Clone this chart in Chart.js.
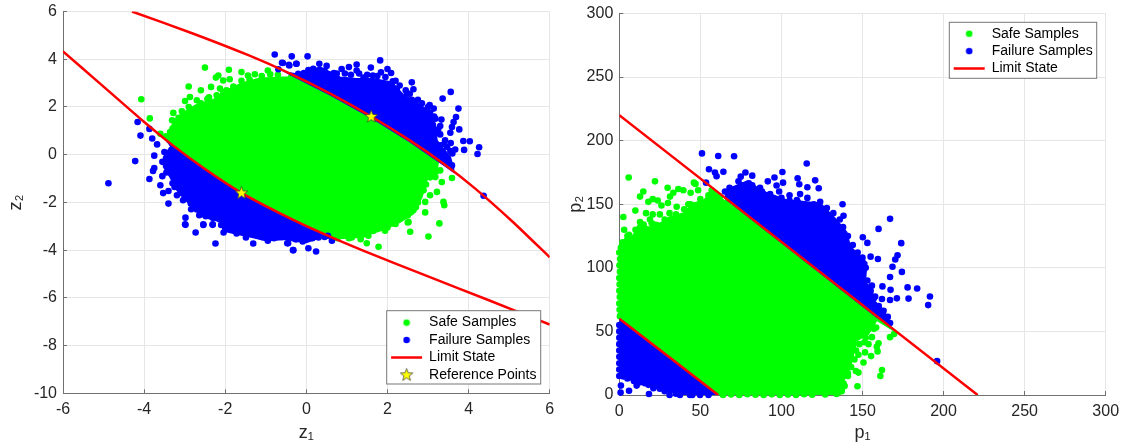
<!DOCTYPE html>
<html>
<head>
<meta charset="utf-8">
<style>
  body { margin: 0; background: #fff; }
  canvas { position: absolute; top: 0; }
</style>
<script src="https://cdn.jsdelivr.net/npm/chart.js@4"></script>
</head>
<body>
<canvas id="z-chart" width="560" height="446" style="left:0"></canvas>
<canvas id="p-chart" width="566" height="446" style="left:560px"></canvas>
<script>
// tick labels
const zXTicks = [-6, -4, -2, 0, 2, 4, 6];
const zYTicks = [-10, -8, -6, -4, -2, 0, 2, 4, 6];
const pXTicks = [0, 50, 100, 150, 200, 250, 300];
const pYTicks = [0, 50, 100, 150, 200, 250, 300];

const labels = ['Safe Samples', 'Failure Samples', 'Limit State', 'Reference Points'];

// standard normal space: outline of the solid clouds
const safeBodyZ = [[-3.44,.6],[-3.36,.95],[-3.28,1.4],[-3.05,1.75],[-2.7,2.1],[-2.3,2.3],[-1.95,2.7],[-1.6,3.0],[-1.15,3.2],[-.45,3.25],[-.4,3.38],[.6,2.53],[1.6,1.58],[2.55,.58],[3.25,-.25],[3.25,-.35],[3.22,-.66],[2.97,-1.07],[2.85,-1.77],[2.64,-2.47],[2.31,-2.82],[1.82,-3.19],[1.24,-3.47],[.75,-3.5],[.4,-3.28],[-.6,-2.48],[-1.6,-1.58],[-2.5,-.58],[-3.3,.42],[-3.44,.6]];
const failUpperZ = [[-.55,3.5],[-.4,3.36],[.6,2.5],[1.6,1.55],[2.55,.55],[3.4,-.45],[3.63,-.73],[3.63,-.59],[3.55,-.1],[3.22,.6],[3.18,1.3],[2.97,1.86],[2.64,2.28],[2.4,2.49],[2.11,3.04],[1.65,3.18],[1.24,3.18],[.83,3.25],[.34,3.67],[-.16,3.39]];
const failLowerZ = [[-3.44,.55],[-3.3,.37],[-2.5,-.63],[-1.6,-1.63],[-.6,-2.53],[.4,-3.33],[.6,-3.47],[.34,-3.47],[0,-3.68],[-.32,-3.61],[-.5,-3.54],[-.99,-3.61],[-1.31,-3.47],[-1.72,-3.33],[-2.05,-3.19],[-2.09,-2.82],[-2.54,-2.61],[-2.82,-2.19],[-3.19,-1.49],[-3.36,-.94],[-3.52,-.52],[-3.52,-.1],[-3.36,.32]];

// standard normal space: the scattered samples round the edge
const safeZ = [[-2.5,3.65],[-4.07,2.32],[-3.86,1.52],[-1.91,3.56],[-1.6,3.46],[-2.9,2.86],[-2.6,2.7],[-2.35,2.84],[-2.17,3.32],[-2.23,3.23],[-3.6,.88],[-3.46,.77],[-3.28,1.75],[-3.07,1.82],[-2.99,2.25],[-2.87,2.42],[-2.7,2.28],[-2.44,2.33],[-2.21,2.49],[-3.31,1.44],[-3.36,.95],[-2.05,3.11],[-1.89,3.16],[-2.13,2.77],[-1.97,2.7],[-1.27,3.37],[-.95,3.53],[-.89,3.37],[-1.44,3.32],
  [-3.3,1.1],[-3.15,1.55],[-2.9,2],[-2.6,2.15],[-2.4,2.4],[-2.05,2.6],[-1.8,2.85],[-1.6,3.1],[-1.4,3.15],[-1.1,3.3],[-.7,3.35],
  [3.59,-.98],[3.3,-.66],[3.38,-1.98],[3.4,-2.12],[2.93,-2.42],[2.93,-1.98],[3.05,-1.7],[3.22,-1.56],[3.34,-1.15],[3.18,-.94],[2.89,-1.49],[2.64,-2.33],[2.52,-2.82],[3.28,-2.88],[3.01,-3.43],[2.56,-3.23],[2.5,-2.84],[1.94,-3.19],[1.78,-3.86],[1.49,-3.71],[1.34,-3.54],[1.53,-3.4],[2.13,-2.88],[1.12,-3.47],[.92,-3.4],[.77,-3.5],
  [2.95,-1.25],[2.75,-2],[2.7,-2.2],[2.5,-2.55],[2.2,-2.9],[2,-3.05],[1.65,-3.2],[1.4,-3.35],[1.05,-3.5],[3.2,-.7],[3.05,-.95]];
const failZ = [[-.36,4.12],[.03,4.12],[-.58,3.84],[-.42,3.74],[-.24,3.81],[1.82,3.95],[.32,3.81],[.5,3.72],[.87,3.59],[1.05,3.67],[1.24,3.78],[1.59,3.65],[2,3.59],[2.09,3.42],[1.84,3.45],[2.6,3.03],[2.64,2.74],[3.56,2.63],[3.36,2.35],[3.75,1.93],[3.69,1.58],[3.63,1.37],[3.59,1.16],[3.55,.92],[3.77,1.06],[3.33,1.47],[3.04,2.08],[3.14,1.93],[2.81,2],[3.87,.57],[4.03,.56],[4.26,.31],[4.22,.03],[3.89,.2],[3.67,.22],[3.42,.6],[3.56,.49],[3.22,.99],[4.37,-1.72],[3.59,-.45],[2.48,2.56],[.17,3.6],[.68,3.42],[1.24,3.53],[1.41,3.23],[1.64,3.32],[2.13,3.07],[2.23,2.72],[2.31,2.42],[2.6,2.3],[2.89,1.86],[3.18,1.51],[3.47,.32],[3.3,.39],[-.06,3.42],[-.2,3.39],[-.78,4.2],[-.6,3.85],[-.43,3.77],[-.25,3.81],[-.69,3.58],
  [.05,3.55],[.2,3.45],[.45,3.5],[.6,3.35],[.75,3.4],[.95,3.4],[1.1,3.35],[1.3,3.4],[1.5,3.35],[1.75,3.3],[1.95,3.25],[2.2,3.1],[2.3,2.9],[2.45,2.7],[2.55,2.55],[2.75,2.3],[2.85,2.15],[3,2],[3.05,1.75],[3.15,1.6],[3.3,1.2],[3.25,1.05],[3.3,.85],[3.4,.45],[3.55,.15],[3.6,.05],
  [-4.88,-1.2],[-4.22,-.27],[-4.16,1.37],[-4.09,.8],[-3.87,1.08],[-3.8,.68],[-3.68,.43],[-3.87,-1.02],[-3.75,-.04],[-3.75,-.56],[-3.5,.11],[-3.78,-.68],[-3.6,-1.28],[-3.53,-1.61],[-3.4,-2.05],[-3.4,-1.52],[-3.19,-1.7],[-3.04,-1.91],[-2.84,-2.29],[-2.98,-2.64],[-2.99,-2.92],[-2.64,-2.54],[-2.48,-2.58],[-2.54,-2.92],[-2.31,-2.92],[-2.13,-2.72],[-2.98,-2.94],[-2.73,-3.26],[-2.54,-2.95],[-2.31,-2.94],[-2.24,-3.72],[-2.04,-3.26],[-1.72,-3.3],[-1.49,-3.47],[-1.31,-3.72],[-.95,-3.61],[-.45,-3.71],[-.33,-4],[-.27,-3.54],[-.47,-3.71],[-.32,-4],[-.24,-3.54],[.05,-3.92],[.24,-4.06],[-.09,-3.64],[.3,-3.47],[.63,-3.61],[.53,-3.4],
  [-3.55,-.3],[-3.45,-.75],[-3.55,-.9],[-3.3,-1.2],[-3.25,-1.35],[-3.1,-1.6],[-3,-1.8],[-2.85,-2.05],[-2.7,-2.3],[-2.55,-2.45],[-2.3,-2.65],[-2.1,-2.95],[-1.9,-3.1],[-1.6,-3.2],[-1.4,-3.3],[-1.1,-3.45],[-.8,-3.5],[-.6,-3.45],[-.1,-3.5],[.15,-3.5],[.45,-3.45]];

// both branches of the limit state, null breaks the line
const limitZ = [[-4.3,6],[-2.8,5.08],[-1.4,4.15],[-.4,3.4],[.6,2.55],[1.6,1.6],[2.55,.6],[3.4,-.4],[4.15,-1.4],[5.08,-2.8],[6,-4.3],[null,null],[-6,4.33],[-5.1,3],[-4.02,1.4],[-3.3,.4],[-2.5,-.6],[-1.6,-1.6],[-.6,-2.5],[.4,-3.3],[1.4,-4.02],[3,-5.1],[4.5,-6.1],[6,-7.12]];
const refZ = [[1.6,1.6],[-1.6,-1.6]];

// physical space: outline of the solid clouds
const safeBodyP = [[0,60],[0,115],[3.5,123],[8.6,125.6],[11.7,133.6],[18.9,132],[22,136],[25,135],[31,140],[39.5,143],[45.7,150.8],[51.9,153],[58,161],[66.3,150.8],[72,148],[170,50],[158.8,58.8],[153.7,48],[146.5,42.8],[144.4,32],[142.4,21.5],[138.3,10.9],[137.2,3],[136,0],[60,0]];
const failUpperP = [[65,155],[159,61],[167,56],[163,66.8],[156.8,74.7],[155.8,85],[151.6,88],[152.7,104],[148.6,109],[142.4,117],[140.3,128],[134,137.7],[124,150.8],[103,153.4],[91,159],[78.6,168],[65.2,161]];
const failLowerP = [[0,60],[60,0],[41.6,0],[31,2.6],[23,5.3],[13.8,9.3],[0,14.5]];

// physical space: the scattered samples round the edge
const safeP = [[5.8,171],[2.5,140],[9.9,145],[22,168],[14.8,160],[12.8,156],[29.8,163],[46,167],[47,166],[48.6,161],[36.4,162],[39.5,161],[33.3,159],[31.3,156],[44,159],[20.6,154],[23.7,153],[17.9,152],[30,151],[26,149],[35.4,148],[16.5,143],[20.6,142],[12.8,136],[18.9,138],[25,142],[31,143],[57,161],[42.6,150],[67,152],
  [6,126],[10,130],[15,134],[20,135],[28,138],[35,142],[40,146],[44,150],[50,154],[55,157],[62,156],
  [167,45.5],[169.5,48],[158.4,53],[153.7,40],[155.8,45.5],[159.9,40.7],[158.8,38],[159.3,34.3],[155.3,30.6],[151.6,33.5],[147.5,31.6],[150.6,25.5],[162,19.7],[161,14.9],[145.9,18.9],[147.5,17.6],[146.9,6.9],[137.2,3],[140.3,16.8],[138.3,9],[151.2,41.5],
  [157,52],[152,45],[148,40],[146,35],[145,28],[143,22],[141,15],[139,7],
  [.4,62],[.2,67],[0,72],[.3,77],[0,82],[.2,87],[0,92],[.4,97],[.1,102],[.5,107],[0,112],[1,116],[2,120],[5,125],[3,130],
  [64,0],[69,.4],[74,0],[79,.6],[84,.2],[89,0],[94,.5],[99,0],[104,.3],[109,0],[114,.6],[119,.2],[122.8,2.6],[127,.4],[134,.8],[137,4],[138,18.5],[141,17]];
const failP = [[51,190],[61,188],[70.8,187.7],[55.3,177.5],[59,174.9],[60,172],[64.2,175.6],[53.5,167],[77.8,175],[74.9,171.7],[73.5,168],[82,172.5],[79.9,166.5],[86.8,163],[91.6,168],[95.7,171],[97,164.7],[100.6,175.4],[101,167],[98.6,160],[105,157],[110,170.4],[111,165.7],[115.6,182],[116,163.4],[120.8,168.8],[123,162.6],[111.5,158],[109.5,153.4],[123.9,152],[137.7,150],[138.3,141],[133,136],[127,140],[68,163],[65.2,160],
  [70,160],[75,165],[82,165],[88,160],[93,158],[100,155],[105,153],[110,152],[116,155],[120,150],[128,147],[132,143],[136,138],[138,132],[141,125],[144,118],[147,112],[150,108],[152,100],[150,95],[153,90],[155,82],[157,76],[160,70],
  [167,138.5],[159.9,130.6],[150.2,124],[153,119.6],[173.9,119.4],[171.6,109.8],[170.2,106.6],[159.5,107],[155,108.8],[168.5,100.8],[174.3,96.8],[167,92.8],[162.3,85.4],[167.3,82.7],[177.8,84.6],[183.7,83.8],[178.4,75.8],[191.6,77.4],[190.5,70.7],[171.2,76],[167,74.7],[162,75.5],[157.8,77.4],[155.8,86],[163,66.2],[165.6,61.4],[167,56.6],[196,26.6],
  [.8,1.9],[1,7.4],[6,3.4],[18.3,.8],[2.5,14.5],[10.7,7.4],[15.8,9.3],[21,5.3],[31,0],[37.4,0],[43.6,0],[49.8,0],[55,0],[0,55],[0,50],[0,45],[0,40],[0,35],[0,30],[0,25],[0,20],[0,15],
  [5,13],[9,11],[13,10],[18,8],[25,5],[28,3],[35,1],[45,0]];

const limitP = [[0,220],[221,0],[null,null],[0,60],[61,0]];

const FONT = 'Liberation Sans, Arial, sans-serif';
const TEXT = '#262626';

function toXY(list) {
    return list.map(p => ({ x: p[0], y: p[1] }));
}

// five pointed star for the reference points, Chart.js 'star' is an asterisk
function makeStar() {
    const c = document.createElement('canvas');
    c.width = 15;
    c.height = 15;
    const g = c.getContext('2d');
    g.beginPath();
    for (let i = 0; i < 10; i++) {
        const r = i % 2 ? 2.8 : 6.6;
        const a = -Math.PI / 2 + i * Math.PI / 5;
        g.lineTo(7.5 + r * Math.cos(a), 7.8 + r * Math.sin(a));
    }
    g.closePath();
    g.fillStyle = '#ffff00';
    g.fill();
    g.lineWidth = 0.7;
    g.strokeStyle = '#333';
    g.stroke();
    return c;
}

// legend dot, the library would stretch a circle to pointStyleWidth
function makeDot(color) {
    const c = document.createElement('canvas');
    c.width = 8;
    c.height = 8;
    const g = c.getContext('2d');
    g.beginPath();
    g.arc(4, 4, 3.3, 0, Math.PI * 2);
    g.fillStyle = color;
    g.fill();
    return c;
}

function bodySet(list, color, order) {
    return {
        data: toXY(list),
        showLine: true,
        fill: 'shape',
        backgroundColor: color,
        borderColor: color,
        borderWidth: 1.5,
        pointRadius: 0,
        order: order
    };
}

function dotSet(label, list, color, order) {
    return {
        label: label,
        data: toXY(list),
        backgroundColor: color,
        borderColor: color,
        borderWidth: 0,
        pointRadius: 3.3,
        pointStyle: 'circle',
        clip: false,
        order: order
    };
}

function limitSet(list) {
    return {
        label: labels[2],
        data: toXY(list),
        showLine: true,
        borderColor: '#ff0000',
        backgroundColor: '#ff0000',
        borderWidth: 2.5,
        pointRadius: 0,
        pointStyle: 'line',
        spanGaps: false,
        tension: 0.2,
        order: 1
    };
}

// puts the library legend at a fixed spot, on top of the marks
const legendBox = {
    id: 'legendBox',
    afterLayout(chart, args, opts) {
        const l = chart.legend;
        l.left = opts.x + 1;
        l.right = opts.x + opts.w;
        l.top = opts.y + opts.dy;
        l.bottom = opts.y + opts.h + 40;
    },
    afterDatasetsDraw(chart, args, opts) {
        const ctx = chart.ctx;
        ctx.save();
        ctx.fillStyle = '#fff';
        ctx.strokeStyle = '#777';
        ctx.lineWidth = 1;
        ctx.fillRect(opts.x, opts.y, opts.w, opts.h);
        ctx.strokeRect(opts.x, opts.y, opts.w, opts.h);
        ctx.restore();
        chart.legend.draw();
    }
};

function axis(ticks, min, max, title, size, isX) {
    return {
        type: 'linear',
        min: min,
        max: max,
        afterBuildTicks: s => { s.ticks = ticks.map(v => ({ value: v })); },
        afterFit: s => {
            if (isX) s.height = size; else s.width = size;
            s.paddingTop = 0;
            s.paddingBottom = 0;
            s.paddingLeft = 0;
            s.paddingRight = 0;
        },
        grid: { color: '#e6e6e6', lineWidth: 1, tickColor: '#707070', tickLength: -4 },
        border: { color: '#707070', width: 1 },
        ticks: {
            color: TEXT,
            font: { family: FONT, size: 16 },
            autoSkip: false,
            maxRotation: 0,
            padding: isX ? 11 : 10
        },
        title: {
            display: true,
            text: title,
            color: TEXT,
            font: { family: FONT, size: 18 },
            padding: { top: isX ? 0 : 5, bottom: isX ? 2 : 0 }
        }
    };
}

function makeChart(id, datasets, scales, pad, box) {
    return new Chart(document.getElementById(id), {
        type: 'scatter',
        data: { datasets: datasets },
        options: {
            responsive: false,
            animation: false,
            layout: { padding: pad },
            scales: scales,
            plugins: {
                tooltip: { enabled: false },
                legendBox: box,
                legend: {
                    position: 'chartArea',
                    align: 'start',
                    labels: {
                        filter: item => !!item.text,
                        sort: (a, b) => a.datasetIndex - b.datasetIndex,
                        generateLabels: chart => Chart.defaults.plugins.legend.labels.generateLabels(chart).map(item => {
                            if (item.pointStyle === 'circle') item.pointStyle = makeDot(item.fillStyle);
                            return item;
                        }),
                        usePointStyle: true,
                        pointStyleWidth: 31,
                        boxHeight: 5,
                        padding: 3.4,
                        color: '#000',
                        font: { family: FONT, size: 14 }
                    }
                }
            }
        },
        plugins: [legendBox]
    });
}

makeChart('z-chart', [
    bodySet(safeBodyZ, '#00ff00', 6),
    dotSet(labels[0], safeZ, '#00ff00', 5),
    bodySet(failUpperZ, '#0000ff', 4),
    bodySet(failLowerZ, '#0000ff', 4),
    dotSet(labels[1], failZ, '#0000ff', 3),
    limitSet(limitZ),
    { label: labels[3], data: toXY(refZ), pointStyle: makeStar(), pointRadius: 6.5, order: 0 }
], {
    x: axis(zXTicks, -6, 6, 'z₁', 52.7, true),
    y: axis(zYTicks, -10, 6, 'z₂', 63, false)
}, { top: 11.5, right: 10.3 }, { x: 386.7, y: 310.7, w: 154, h: 73.3, dy: 1.5 });

makeChart('p-chart', [
    bodySet(safeBodyP, '#00ff00', 6),
    dotSet(labels[0], safeP, '#00ff00', 5),
    bodySet(failUpperP, '#0000ff', 4),
    bodySet(failLowerP, '#0000ff', 4),
    dotSet(labels[1], failP, '#0000ff', 3),
    limitSet(limitP)
], {
    x: axis(pXTicks, 0, 300, 'p₁', 51, true),
    y: axis(pYTicks, 0, 300, 'p₂', 59.3, false)
}, { top: 13.5, right: 20.3 }, { x: 389.3, y: 22.3, w: 147.4, h: 56, dy: 1 });
</script>
</body>
</html>
